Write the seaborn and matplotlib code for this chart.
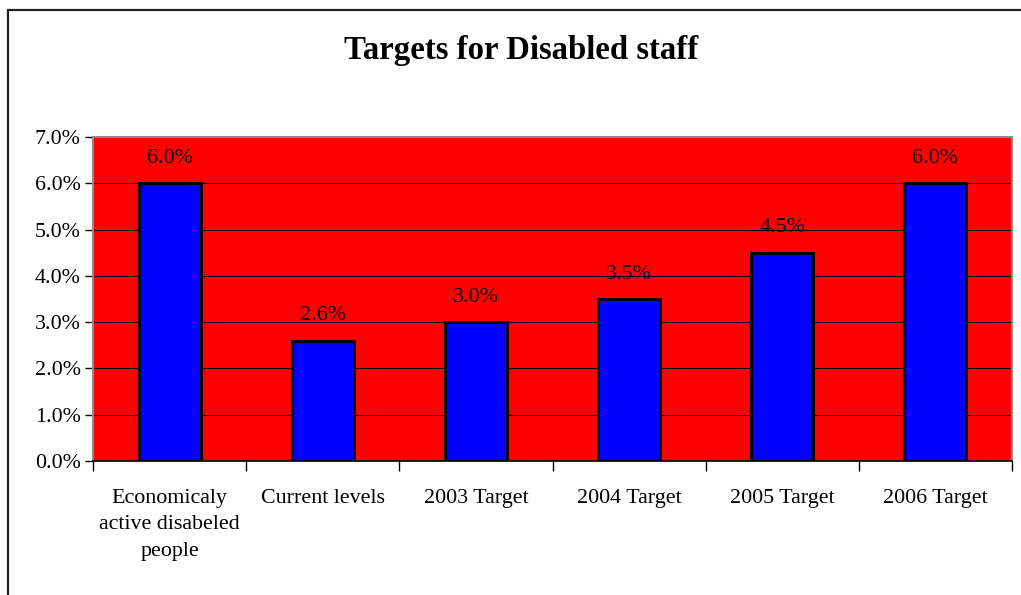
import matplotlib
matplotlib.use("Agg")
import matplotlib.pyplot as plt
from matplotlib.lines import Line2D
from matplotlib.ticker import FuncFormatter, FixedLocator
import seaborn as sns
import pandas as pd

categories = [
    "Economicaly\nactive disabeled\npeople",
    "Current levels",
    "2003 Target",
    "2004 Target",
    "2005 Target",
    "2006 Target",
]
values = [6.0, 2.6, 3.0, 3.5, 4.5, 6.0]
y_ticks = [0, 1, 2, 3, 4, 5, 6, 7]
title = "Targets for Disabled staff"

sns.set_theme(style="white")
plt.rcParams["font.family"] = ["Liberation Serif", "DejaVu Serif"]

df = pd.DataFrame({"category": categories, "value": values})

fig = plt.figure(figsize=(10.21, 5.95), dpi=100)
ax = fig.add_axes([93 / 1021, 1 - 461 / 595, (1012 - 93) / 1021, (461 - 137) / 595])

ax.set_facecolor("#ff0000")
ax.set_axisbelow(True)
ax.grid(axis="y", color="black", linewidth=0.75)
ax.grid(axis="x", visible=False)

sns.barplot(data=df, x="category", y="value", color="#0000ff", saturation=1,
            edgecolor="black", linewidth=2.1, width=0.405, ax=ax)

ax.set_xlim(-0.5, len(categories) - 0.5)
ax.set_ylim(0, 7)
ax.yaxis.set_major_locator(FixedLocator(y_ticks))
ax.yaxis.set_major_formatter(FuncFormatter(lambda v, _: f"{v:.1f}%"))
ax.set_xlabel("")
ax.set_ylabel("")

ax.bar_label(ax.containers[0], labels=[f"{v:.1f}%" for v in values],
             padding=11, fontsize=15.8, color="black")

# category boundaries as small ticks below the axis
ax.xaxis.set_minor_locator(FixedLocator([i - 0.5 for i in range(len(categories) + 1)]))
ax.tick_params(axis="x", which="major", length=0, pad=20, labelsize=15.8, colors="black")
ax.tick_params(axis="x", which="minor", length=7, width=1, color="black", direction="out", bottom=True)
ax.tick_params(axis="y", which="major", length=6, width=1, color="black", direction="out",
               left=True, labelsize=15.8, labelcolor="black", pad=3)
for lbl in ax.get_xticklabels():
    lbl.set_linespacing(1.55)

for side in ["left", "top", "right"]:
    ax.spines[side].set_visible(True)
    ax.spines[side].set_color("#8c8c8c")
    ax.spines[side].set_linewidth(1.5)
ax.spines["bottom"].set_color("black")
ax.spines["bottom"].set_linewidth(1.2)

fig.text(521 / 1021, 1 - 51 / 595, title, ha="center", va="center",
         fontsize=23.6, fontweight="bold", color="black")

# outer chart frame (top and left edges)
fig.add_artist(Line2D([7.5 / 1021, 1], [1 - 9.5 / 595, 1 - 9.5 / 595],
                      transform=fig.transFigure, color="#222222", linewidth=1.6))
fig.add_artist(Line2D([7.5 / 1021, 7.5 / 1021], [0, 1 - 9.5 / 595],
                      transform=fig.transFigure, color="#222222", linewidth=1.6))

fig.savefig("out.png", dpi=100, facecolor="white")
